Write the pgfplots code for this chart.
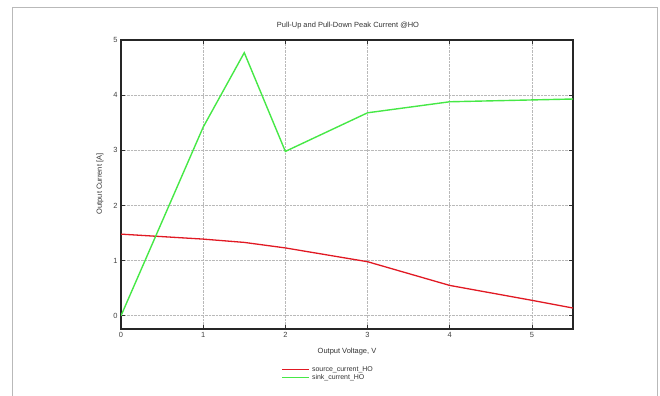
\documentclass[border=0pt]{standalone}
\usepackage{pgfplots}
\pgfplotsset{compat=1.18}
\usepackage{fontspec}
\setmainfont{Liberation Sans}

\definecolor{srcred}{RGB}{225,25,35}
\definecolor{sinkgreen}{RGB}{70,232,70}

\begin{document}
\begin{tikzpicture}
\useasboundingbox (0,0) rectangle (660bp,396bp);
% page frame
\draw[gray!55, line width=1bp] (12bp,0) -- (12bp,388bp) -- (657bp,388bp) -- (657bp,0);

\begin{axis}[
  at={(121bp,67bp)}, anchor=south west,
  scale only axis, width=452bp, height=289bp,
  xmin=0, xmax=5.5, ymin=-0.24, ymax=5,
  xtick={0,1,2,3,4,5}, ytick={0,1,2,3,4,5},
  grid=major,
  major grid style={densely dotted, gray!55, line width=0.7bp},
  tick align=inside,
  major tick length=4bp,
  tick style={black!80, line width=0.8bp},
  axis line style={black!85, line width=1.2bp},
  tick label style={font=\fontsize{7.5}{8}\selectfont, text=black!75},
  /pgf/number format/assume math mode=true,
  legend style={at={(0.355,-0.122)}, anchor=north west, draw=none, fill=none,
    font=\fontsize{7}{7}\selectfont, inner sep=0pt, row sep=-2.8bp, text=black!80},
  legend cell align=left,
  legend image code/.code={\draw[#1] (0bp,0bp) -- (27bp,0bp);},
]
\addplot[srcred, line width=1.3bp] coordinates {
  (0,1.48) (1,1.39) (1.5,1.33) (2,1.23) (3,0.98) (4,0.55) (5,0.28) (5.5,0.14)
};
\addlegendentry{source\_current\_HO}
\addplot[sinkgreen, line width=1.4bp] coordinates {
  (0,0) (1,3.42) (1.5,4.77) (2,2.98) (3,3.68) (4,3.88) (5.5,3.93)
};
\addlegendentry{sink\_current\_HO}
\end{axis}

% titles and axis labels
\node[font=\fontsize{7.5}{9}\selectfont, text=black!80] at (348bp,370bp) {Pull-Up and Pull-Down Peak Current @HO};
\node[font=\fontsize{7.5}{8}\selectfont, text=black!80] at (347bp,44bp) {Output Voltage, V};
\node[font=\fontsize{7.5}{8}\selectfont, text=black!80, rotate=90] at (100bp,212bp) {Output Current [A]};
\end{tikzpicture}
\end{document}
